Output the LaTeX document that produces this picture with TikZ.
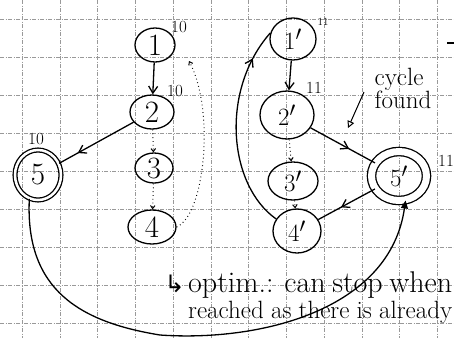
\documentclass[tikz,border=0pt]{standalone}
\usepackage{fontspec}
\newfontfamily\symfont{DejaVu Sans}
\usetikzlibrary{shapes.geometric,arrows.meta,decorations.markings}
\begin{document}
\begin{tikzpicture}[x=1pt,y=-1pt,
  ink/.style={line width=1.3pt,black},
  gridline/.style={gray!80,line width=0.5pt,dash pattern=on 4pt off 1.5pt on 1pt off 1.5pt},
  vertex/.style={ellipse,draw,ink,inner sep=0pt,font=\fontsize{31}{31}\selectfont},
  accept/.style={vertex,double,double distance=#1},
  weight/.style={font=\fontsize{17}{17}\selectfont,inner sep=0pt},
  tip/.style={-{Straight Barb[length=7pt,width=9pt]}},
  midtip/.style={postaction={decorate},decoration={markings,mark=at position #1 with {\arrow{Straight Barb[length=7pt,width=9pt]}}}},
  dotted link/.style={line width=1pt,dash pattern=on 0.8pt off 3pt,-{Straight Barb[length=3pt,width=4.5pt]}},
  note/.style={anchor=base west,inner sep=0pt}
]
\useasboundingbox (0,0) rectangle (454,338);
\clip (0,0) rectangle (454,338);
\fill[white] (0,0) rectangle (454,338);

% squared paper
\foreach \k in {0,...,11} \draw[gridline] ({22+37.75*\k},0) -- ({22+37.75*\k},338);
\foreach \k in {0,...,8} \draw[gridline] (0,{19+38*\k}) -- (454,{19+38*\k});

% first search
\node[vertex,minimum width=40pt,minimum height=34pt] (n1) at (155,45) {1};
\node[vertex,minimum width=44pt,minimum height=34pt] (n2) at (152,112) {2};
\node[vertex,minimum width=38pt,minimum height=30pt] (n3) at (154,168) {3};
\node[vertex,minimum width=48pt,minimum height=34pt] (n4) at (152,227) {4};
\node[accept=2.5pt,minimum width=46pt,minimum height=50pt] (n5) at (38,175) {5};

\node[weight] (w1) at (179,27) {10};
\node[weight] (w2) at (175,91) {10};
\node[weight] (w5) at (36,139) {10};

\draw[ink,tip] (n1) -- (n2);
\draw[ink,midtip=0.75] (n2) -- (n5);
\draw[dotted link] (n2) -- (n3);
\draw[dotted link] (n3) -- (n4);
\coordinate (back) at (189,61);
\draw[dotted link] (n4.east) .. controls (205,215) and (215,110) .. (back);

% second search
\node[vertex,minimum width=46pt,minimum height=42pt] (m1) at (293,39) {$1'$};
\node[vertex,minimum width=54pt,minimum height=48pt] (m2) at (287,115) {$2'$};
\node[vertex,minimum width=50pt,minimum height=38pt] (m3) at (293,181) {$3'$};
\node[vertex,minimum width=48pt,minimum height=44pt] (m4) at (297,231) {$4'$};
\node[accept=7pt,minimum width=55pt,minimum height=49pt] (m5) at (399,176) {$5'$};

\node[weight,font=\fontsize{11}{11}\selectfont] (v1) at (323,22) {11};
\node[weight] (v2) at (314,88) {11};
\node[weight] (v5) at (446,161) {11};

\draw[ink,tip] (m1) -- (m2);
\draw[ink,midtip=0.6] (m2) -- (m5);
\draw[dotted link] (m2) -- (m3);
\draw[dotted link] (m3) -- (m4);
\draw[ink,midtip=0.6] (m5) -- (m4);
\draw[ink,midtip=0.85] (m4.150) .. controls (228,185) and (220,90) .. (m1.165);

% annotation
\node[font=\fontsize{25}{23}\selectfont,align=left,inner sep=0pt] (cyc) at (403,88) {cycle\\found};
\coordinate (cycfoot) at (364,92);
\coordinate (hit) at (348,128);
\draw[line width=1pt,-{Triangle[open,length=7pt,width=7pt]}] (cycfoot) -- (hit);
\draw[ink,line width=1.8pt] (447,43) -- (454,43);

% jump between the two searches
\draw[ink,-{Triangle[length=8pt,width=7pt]}] (n5.250) .. controls (25,290) and (80,322) .. (160,335)
  .. controls (260,342) and (390,310) .. (m5.-75);

% remark
\node[note,font=\fontsize{30}{30}\selectfont] (opt) at (188,292) {\makebox[264pt][s]{optim.: can stop when}};
\node[font=\symfont\fontsize{24}{24}\selectfont,anchor=base east,inner sep=0pt] (hook) at ([xshift=-3pt]opt.base west) {↳};
\node[note,font=\fontsize{25}{26}\selectfont] (rea) at (188,318) {\makebox[264pt][s]{reached as there is already}};
\end{tikzpicture}
\end{document}
